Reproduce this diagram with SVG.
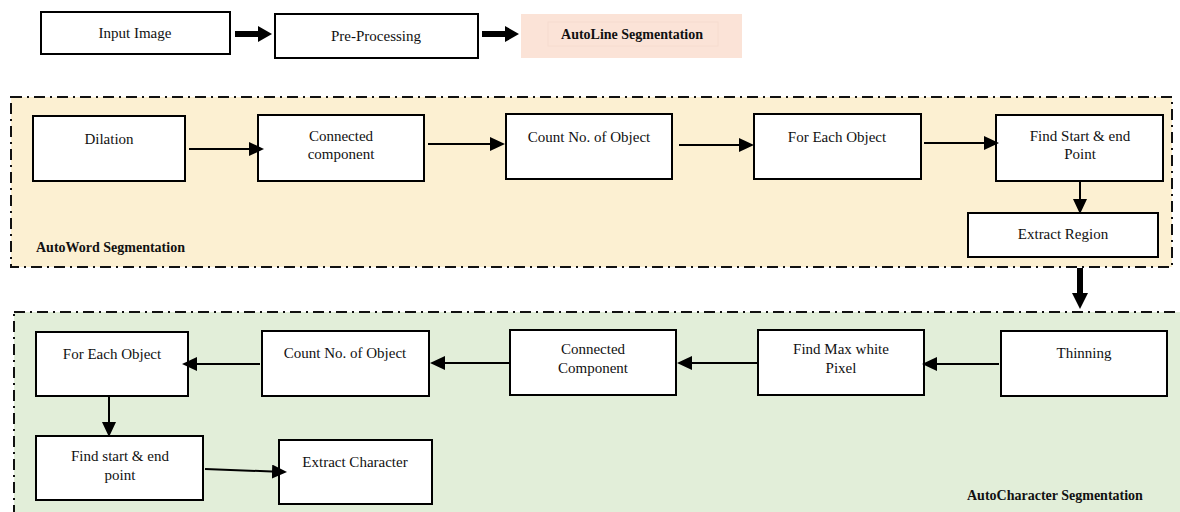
<svg xmlns="http://www.w3.org/2000/svg" width="1180" height="512" viewBox="0 0 1180 512">
<style>
.box{fill:#fff;stroke:#000;stroke-width:2}
.t{font-family:"Liberation Serif","Times New Roman",serif;font-size:15px;fill:#111;text-anchor:middle}
.lbl{font-family:"Liberation Serif","Times New Roman",serif;font-size:14px;font-weight:bold;fill:#111}
.sec{stroke:#111;stroke-width:2;stroke-dasharray:11 5 2 5}
.c{stroke:#000;stroke-width:2;fill:none;marker-end:url(#ah)}
.thick{fill:#000}
</style>
<defs>
<marker id="ah" markerUnits="userSpaceOnUse" markerWidth="16" markerHeight="14" refX="12" refY="7" orient="auto">
<path d="M0,0 L15,7 L0,14 z" fill="#000"/>
</marker>
</defs>
<rect width="1180" height="512" fill="#fff"/>

<g id="section-word">
<rect x="11" y="97" width="1161" height="170" fill="#fcf0d2" class="sec"/>
<text class="lbl" x="36" y="252">AutoWord Segmentation</text>
</g>
<g id="section-char">
<rect x="14" y="312" width="1180" height="210" fill="#e2eed9" class="sec"/>
<text class="lbl" x="967" y="500">AutoCharacter Segmentation</text>
</g>

<g id="n-input"><rect class="box" x="41" y="12" width="189" height="42"/><text class="t" x="135" y="38">Input Image</text></g>
<g id="n-pre"><rect class="box" x="275" y="14" width="203" height="44"/><text class="t" x="376" y="41">Pre-Processing</text></g>
<g id="n-autoline"><rect x="521" y="14" width="221" height="44" fill="#fbe3d7"/><rect x="548" y="22" width="170" height="24" fill="none" stroke="#f6dccf" stroke-width="1"/><text class="lbl" x="632" y="39" text-anchor="middle">AutoLine Segmentation</text></g>

<g id="n-dilation"><rect class="box" x="33" y="116" width="152" height="65"/><text class="t" x="109" y="144">Dilation</text></g>
<g id="n-cc1"><rect class="box" x="258" y="115" width="166" height="66"/><text class="t" x="341" y="141">Connected</text><text class="t" x="341" y="159">component</text></g>
<g id="n-count1"><rect class="box" x="506" y="114" width="166" height="65"/><text class="t" x="589" y="142">Count No. of Object</text></g>
<g id="n-each1"><rect class="box" x="754" y="114" width="167" height="65"/><text class="t" x="837" y="142">For Each Object</text></g>
<g id="n-find1"><rect class="box" x="996" y="115" width="167" height="66"/><text class="t" x="1080" y="141">Find Start &amp; end</text><text class="t" x="1080" y="159">Point</text></g>
<g id="n-extract1"><rect class="box" x="968" y="213" width="190" height="44"/><text class="t" x="1063" y="239">Extract Region</text></g>

<g id="n-thin"><rect class="box" x="1001" y="331" width="166" height="65"/><text class="t" x="1084" y="358">Thinning</text></g>
<g id="n-max"><rect class="box" x="758" y="330" width="166" height="65"/><text class="t" x="841" y="354">Find Max white</text><text class="t" x="841" y="373">Pixel</text></g>
<g id="n-cc2"><rect class="box" x="510" y="330" width="166" height="65"/><text class="t" x="593" y="354">Connected</text><text class="t" x="593" y="373">Component</text></g>
<g id="n-count2"><rect class="box" x="262" y="331" width="167" height="65"/><text class="t" x="345" y="358">Count No. of Object</text></g>
<g id="n-each2"><rect class="box" x="36" y="332" width="152" height="64"/><text class="t" x="112" y="359">For Each Object</text></g>
<g id="n-find2"><rect class="box" x="36" y="436" width="167" height="64"/><text class="t" x="120" y="461">Find start &amp; end</text><text class="t" x="120" y="480">point</text></g>
<g id="n-extract2"><rect class="box" x="279" y="440" width="153" height="64"/><text class="t" x="355" y="467">Extract Character</text></g>

<g id="connectors">
<path class="thick" d="M235,31 H258 V26 L272,34 L258,42 V37 H235 Z"/>
<path class="thick" d="M482,31 H505 V26 L519,34 L505,42 V37 H482 Z"/>
<path class="thick" d="M1077,268 V293 H1072 L1080,309 L1088,293 H1083 V268 Z"/>
<line class="c" x1="189" y1="149" x2="261" y2="149"/>
<line class="c" x1="428" y1="144" x2="502" y2="144"/>
<line class="c" x1="679" y1="145" x2="751" y2="145"/>
<line class="c" x1="924" y1="143" x2="996" y2="143"/>
<line class="c" x1="1080" y1="181" x2="1080" y2="211"/>
<line class="c" x1="999" y1="364" x2="925" y2="364"/>
<line class="c" x1="757" y1="363" x2="680" y2="363"/>
<line class="c" x1="509" y1="363" x2="433" y2="363"/>
<line class="c" x1="260" y1="364" x2="185" y2="364"/>
<line class="c" x1="109" y1="396" x2="109" y2="434"/>
<line class="c" x1="205" y1="469" x2="284" y2="472"/>
</g>
</svg>
